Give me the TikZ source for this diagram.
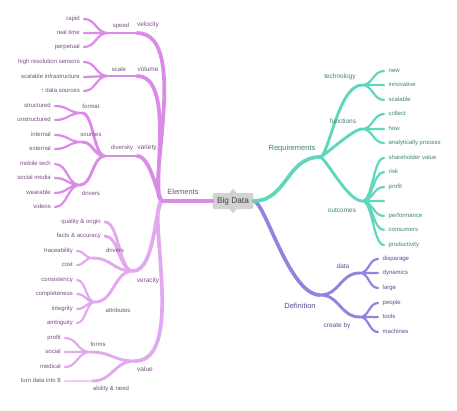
\documentclass[tikz,border=0pt]{standalone}
\usepackage{fontspec}
\setmainfont{Liberation Sans}
\setsansfont{Liberation Sans}
\usetikzlibrary{calc}
\definecolor{MapOrchid}{HTML}{D98BE6}
\definecolor{MapLilac}{HTML}{E2A9EE}
\definecolor{MapPale}{HTML}{ECCDF2}
\definecolor{MapTeal}{HTML}{5FD6BE}
\definecolor{MapViolet}{HTML}{8F84E0}
\definecolor{TextPlum}{HTML}{74507E}
\definecolor{TextTeal}{HTML}{3F8077}
\definecolor{TextIndigo}{HTML}{544E90}
\definecolor{RootGray}{HTML}{D2D2D2}

\begin{document}
\begin{tikzpicture}[
  x=1pt, y=-1pt,
  font=\sffamily,
  root/.style={rounded corners=2pt, fill=RootGray, text=black!75, inner xsep=4.5pt,
    minimum height=16pt, font=\sffamily\fontsize{8.3}{10}\selectfont},
  head/.style={text=#1, inner sep=0pt, font=\sffamily\fontsize{7.5}{9}\selectfont},
  main/.style={text=#1, inner sep=0pt, font=\sffamily\fontsize{6.5}{8}\selectfont},
  sub/.style={text=#1, inner sep=0pt, font=\sffamily\fontsize{6}{7}\selectfont},
  leafL/.style={anchor=east, text=TextPlum, inner xsep=4pt, inner ysep=0pt,
    text height=4.3pt, text depth=1.2pt, font=\sffamily\fontsize{6}{7}\selectfont},
  leafR/.style={anchor=west, text=#1, inner xsep=4.5pt, inner ysep=0pt,
    text height=4.3pt, text depth=1.2pt, font=\sffamily\fontsize{6}{7}\selectfont},
  b1/.style={line width=3.7pt, line cap=round},
  b2/.style={line width=2.9pt, line cap=round},
  b3/.style={line width=2.2pt, line cap=round},
  twig/.style={to path={let \p1=(\tikztostart), \p2=(\tikztotarget) in
    .. controls ({(\x1+\x2)/2},\y1) and ({(\x1+\x2)/2},\y2) .. (\tikztotarget)}},
  trunk/.style={to path={let \p1=(\tikztostart), \p2=(\tikztotarget) in
    .. controls ({\x1+(#1)*0.12*abs(\y2-\y1)},\y1) and ({\x2-(#1)*0.33*abs(\y2-\y1)},\y2) .. (\tikztotarget)}},
]
\useasboundingbox (0,0) rectangle (457,410);

% --- Raiz ---
\node[root] (bd) at (233,201) {Big Data};
\fill[RootGray] (bd.north) ++(-3.5,0) -- ++(7,0) -- ++(-3.5,-4) -- cycle;
\fill[RootGray] (bd.south) ++(-3.5,0) -- ++(7,0) -- ++(-3.5,4) -- cycle;

% --- Puntos de rama, lado izquierdo ---
\coordinate (elem) at (163,201);
\coordinate (velo) at (137,33);
\coordinate (speed) at (108,33);
\coordinate (vol) at (137,76);
\coordinate (scale) at (108,76);
\coordinate (vari) at (137,156);
\coordinate (divers) at (105,156);
\coordinate (format) at (82,113);
\coordinate (sources) at (82,142);
\coordinate (varDrv) at (80,185);
\coordinate (vera) at (133,271);
\coordinate (verDrv) at (92,258);
\coordinate (attr) at (95,302);
\coordinate (valu) at (135,361);
\coordinate (forms) at (90,352);
\coordinate (abil) at (92,381);

% --- Puntos de rama, lado derecho ---
\coordinate (req) at (320,157);
\coordinate (tech) at (362,85);
\coordinate (func) at (362,129);
\coordinate (outc) at (362,201);
\coordinate (outE) at (384,201);
\coordinate (defn) at (320,295);
\coordinate (data) at (360,273);
\coordinate (create) at (360,317);

% --- Hojas izquierdas ---
\node[leafL] (rapid) at (84,19) {rapid};
\node[leafL] (realtime) at (84,33) {real time};
\node[leafL] (perpetual) at (84,47) {perpetual};
\node[leafL] (hires) at (84,62) {high resolution sensors};
\node[leafL] (scalinf) at (84,77) {scalable infrastructure};
\node[leafL] (moresrc) at (84,91) {↑ data sources};
\node[leafL] (structured) at (55,106) {structured};
\node[leafL] (unstructured) at (55,120) {unstructured};
\node[leafL] (internal) at (55,135) {internal};
\node[leafL] (external) at (55,149) {external};
\node[leafL] (mobile) at (55,164) {mobile tech};
\node[leafL] (social) at (55,178) {social media};
\node[leafL] (wearable) at (55,193) {wearable};
\node[leafL] (videos) at (55,207) {videos};
\node[leafL] (quality) at (105,222) {quality \& origin};
\node[leafL] (facts) at (105,236) {facts \& accuracy};
\node[leafL] (trace) at (77,251) {traceability};
\node[leafL] (cost) at (77,265) {cost};
\node[leafL] (consist) at (77,280) {consistency};
\node[leafL] (complete) at (77,294) {completeness};
\node[leafL] (integ) at (77,309) {integrity};
\node[leafL] (ambig) at (77,323) {ambiguity};
\node[leafL] (profitL) at (65,338) {profit};
\node[leafL] (socialL) at (65,352) {social};
\node[leafL] (medical) at (65,367) {medical};
\node[leafL] (turn) at (65,381) {turn data into \$};

% --- Hojas derechas ---
\node[leafR=TextTeal] (new) at (384,71) {new};
\node[leafR=TextTeal] (innov) at (384,85) {innovative};
\node[leafR=TextTeal] (scal) at (384,100) {scalable};
\node[leafR=TextTeal] (collect) at (384,114) {collect};
\node[leafR=TextTeal] (how) at (384,129) {how};
\node[leafR=TextTeal] (anal) at (384,143) {analytically process};
\node[leafR=TextTeal] (share) at (384,158) {shareholder value};
\node[leafR=TextTeal] (risk) at (384,172) {risk};
\node[leafR=TextTeal] (profitR) at (384,187) {profit};
\node[leafR=TextTeal] (perf) at (384,216) {performance};
\node[leafR=TextTeal] (consum) at (384,230) {consumers};
\node[leafR=TextTeal] (product) at (384,245) {productivity};
\node[leafR=TextIndigo] (disp) at (378,259) {disparage};
\node[leafR=TextIndigo] (dyn) at (378,273) {dynamics};
\node[leafR=TextIndigo] (large) at (378,288) {large};
\node[leafR=TextIndigo] (people) at (378,303) {people};
\node[leafR=TextIndigo] (tools) at (378,317) {tools};
\node[leafR=TextIndigo] (machines) at (378,332) {machines};

% --- Ramas: Elements ---
\draw[b1, MapOrchid] (bd.west) -- (elem);
\draw[b1, MapLilac] (elem) to[trunk=-1] (vera) (elem) to[trunk=-1] (valu);
\draw[b1, MapOrchid] (elem) to[trunk=-1] (velo) (elem) to[trunk=-1] (vol) (elem) to[trunk=-1] (vari);
\draw[b2, MapOrchid] (velo) -- (speed) (vol) -- (scale) (vari) -- (divers);
\draw[b3, MapOrchid] (speed) to[twig] (rapid.east) (speed) to[twig] (realtime.east) (speed) to[twig] (perpetual.east);
\draw[b3, MapOrchid] (scale) to[twig] (hires.east) (scale) to[twig] (scalinf.east) (scale) to[twig] (moresrc.east);
\draw[b2, MapOrchid] (divers) to[twig] (format) (divers) to[twig] (sources) (divers) to[twig] (varDrv);
\draw[b3, MapOrchid] (format) to[twig] (structured.east) (format) to[twig] (unstructured.east);
\draw[b3, MapOrchid] (sources) to[twig] (internal.east) (sources) to[twig] (external.east);
\draw[b3, MapOrchid] (varDrv) to[twig] (mobile.east) (varDrv) to[twig] (social.east)
  (varDrv) to[twig] (wearable.east) (varDrv) to[twig] (videos.east);
\draw[b2, MapLilac] (vera) to[twig] (quality.east) (vera) to[twig] (facts.east)
  (vera) to[twig] (verDrv) (vera) to[twig] (attr);
\draw[b3, MapLilac] (verDrv) to[twig] (trace.east) (verDrv) to[twig] (cost.east);
\draw[b3, MapLilac] (attr) to[twig] (consist.east) (attr) to[twig] (complete.east)
  (attr) to[twig] (integ.east) (attr) to[twig] (ambig.east);
\draw[b2, MapLilac] (valu) to[twig] (forms) (valu) to[twig] (abil);
\draw[b3, MapLilac] (forms) to[twig] (profitL.east) (forms) to[twig] (socialL.east) (forms) to[twig] (medical.east);
\draw[b3, MapPale] (abil) -- (turn.east);

% --- Ramas: Definition y Requirements ---
\draw[b1, MapViolet] (bd.east) to[trunk=1] (defn);
\draw[b2, MapViolet] (defn) to[twig] (data) (defn) to[twig] (create);
\draw[b3, MapViolet] (data) to[twig] (disp.west) (data) to[twig] (dyn.west) (data) to[twig] (large.west);
\draw[b3, MapViolet] (create) to[twig] (people.west) (create) to[twig] (tools.west) (create) to[twig] (machines.west);
\draw[b1, MapTeal] (bd.east) to[twig] (req);
\draw[b2, MapTeal] (req) to[trunk=1] (tech) (req) to[trunk=1] (func) (req) to[trunk=1] (outc);
\draw[b3, MapTeal] (tech) to[twig] (new.west) (tech) to[twig] (innov.west) (tech) to[twig] (scal.west);
\draw[b3, MapTeal] (func) to[twig] (collect.west) (func) to[twig] (how.west) (func) to[twig] (anal.west);
\draw[b3, MapTeal] (outc) to[twig] (share.west) (outc) to[twig] (risk.west) (outc) to[twig] (profitR.west)
  (outc) to[twig] (outE) (outc) to[twig] (perf.west) (outc) to[twig] (consum.west) (outc) to[twig] (product.west);

% --- Rotulos de rama ---
\node[head=TextPlum] (elemT) at (183,192) {Elements};
\node[main=TextPlum] (veloT) at (148,25) {velocity};
\node[main=TextPlum] (volT) at (148,69) {volume};
\node[main=TextPlum] (variT) at (147,148) {variety};
\node[main=TextPlum] (veraT) at (148,281) {veracity};
\node[main=TextPlum] (valuT) at (145,369) {value};
\node[sub=TextPlum] (speedT) at (121,26) {speed};
\node[sub=TextPlum] (scaleT) at (119,69) {scale};
\node[sub=TextPlum] (diversT) at (122,148) {diversity};
\node[sub=TextPlum] (formatT) at (91,106) {format};
\node[sub=TextPlum] (sourcesT) at (91,135) {sources};
\node[sub=TextPlum] (varDrvT) at (91,193) {drivers};
\node[sub=TextPlum] (verDrvT) at (115,250) {drivers};
\node[sub=TextPlum] (attrT) at (118,310) {attributes};
\node[sub=TextPlum] (formsT) at (98,344) {forms};
\node[sub=TextPlum] (abilT) at (111,389) {ability \& need};
\node[head=TextTeal] (reqT) at (292,149) {Requirements};
\node[main=TextTeal] (techT) at (340,77) {technology};
\node[main=TextTeal] (funcT) at (343,121) {functions};
\node[main=TextTeal] (outcT) at (342,210) {outcomes};
\node[head=TextIndigo] (defnT) at (300,306) {Definition};
\node[main=TextIndigo] (dataT) at (343,266) {data};
\node[main=TextIndigo] (createT) at (337,326) {create by};

\end{tikzpicture}
\end{document}
